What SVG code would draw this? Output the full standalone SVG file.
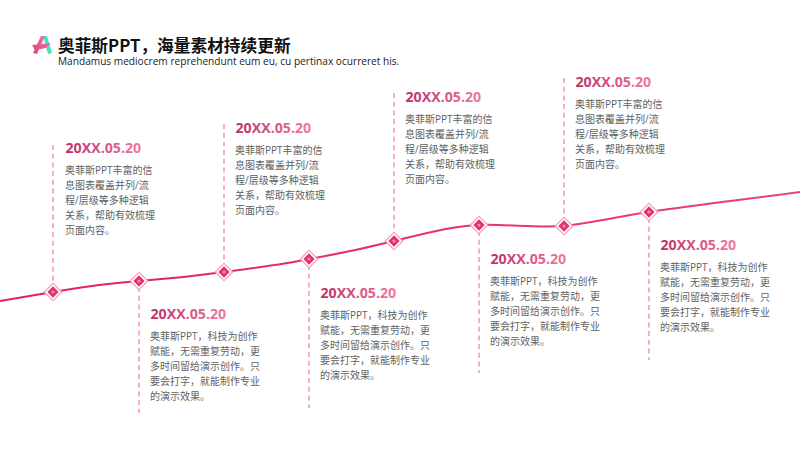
<svg xmlns="http://www.w3.org/2000/svg" width="800" height="450" viewBox="0 0 800 450">
<style>
.title{font:bold 16.7px "Noto Sans CJK SC","Open Sans",sans-serif;fill:#111}
.sub{font:10.15px "Open Sans","Noto Sans",sans-serif;fill:#222}
.date{font:bold 14.2px "Open Sans","Noto Sans",sans-serif;fill:url(#dg)}
.body{font:10px "Open Sans","Noto Sans CJK SC",sans-serif;fill:#5f5f5f}
.dash{stroke:#ec86ab;stroke-width:1.3;stroke-dasharray:5 3.7;fill:none}
.curve{stroke:url(#cg);stroke-width:2;fill:none}
.o{fill:#fff;stroke:#f09bbb;stroke-width:1.2}
.i{fill:#e3306f}
.c{fill:#f98db5}
</style>
<defs>
<linearGradient id="dg" x1="0" y1="0" x2="1" y2="0"><stop offset="0" stop-color="#bd2f6a"/><stop offset="1" stop-color="#ee79a3"/></linearGradient>
<linearGradient id="cg" gradientUnits="userSpaceOnUse" x1="0" y1="0" x2="800" y2="0"><stop offset="0" stop-color="#dd1f68"/><stop offset="1" stop-color="#ee3f7f"/></linearGradient>
<linearGradient id="lg" x1="0" y1="1" x2="1" y2="0"><stop offset="0" stop-color="#e0427f"/><stop offset="1" stop-color="#f2729f"/></linearGradient>
<g id="m"><rect class="o" x="-6.2" y="-6.2" width="12.4" height="12.4" transform="rotate(45)"/><rect class="i" x="-4" y="-4" width="8" height="8" transform="rotate(45)"/><circle class="c" r="1.6"/></g>
<g id="b1"><text class="body" y="0">奥菲斯PPT丰富的信</text><text class="body" y="15">息图表覆盖并列/流</text><text class="body" y="30">程/层级等多种逻辑</text><text class="body" y="45">关系，帮助有效梳理</text><text class="body" y="60">页面内容。</text></g>
<g id="b2"><text class="body" y="0">奥菲斯PPT，科技为创作</text><text class="body" y="15">赋能，无需重复劳动，更</text><text class="body" y="30">多时间留给演示创作。只</text><text class="body" y="45">要会打字，就能制作专业</text><text class="body" y="60">的演示效果。</text></g>
</defs>
<rect width="800" height="450" fill="#fff"/>
<g id="header">
<path d="M43 36 L47 36 L52 53 L48 54Z" fill="#3fe6bf"/>
<path d="M41 36 L45 36 L37 54 L33 53Z" fill="url(#lg)"/>
<path d="M32 45 L51 43 L46 48 L35 50Z" fill="url(#lg)"/>
<text class="title" x="58" y="51.5">奥菲斯PPT，海量素材持续更新</text>
<text class="sub" x="58" y="65">Mandamus mediocrem reprehendunt eum eu, cu pertinax ocurreret his.</text>
</g>
<g id="connectors">
<path class="curve" d="M0 301 C18 298 36 295 53 292 C82 287 110 283 139 281 C168 279 196 276 224 272 C253 268 281 265 309 259 C338 254 366 248 394 241 C423 234 451 226 479 225 C507 224 536 228 564 226 C593 223 621 216 649 212 C700 204 750 199 800 192"/>
<path class="dash" d="M53 145V286M139 287V413M224 124V266M309 265V408M394 93V235M479 231V373M564 78V220M649 218V360"/>
</g>
<g id="n1"><use href="#m" x="53" y="292"/><text class="date" x="65.5" y="152.5">20XX.05.20</text><use href="#b1" x="65" y="174"/></g>
<g id="n2"><use href="#m" x="139" y="281"/><text class="date" x="150.5" y="319">20XX.05.20</text><use href="#b2" x="150" y="340"/></g>
<g id="n3"><use href="#m" x="224" y="272"/><text class="date" x="235.5" y="133">20XX.05.20</text><use href="#b1" x="235" y="154"/></g>
<g id="n4"><use href="#m" x="309" y="259"/><text class="date" x="320.5" y="298">20XX.05.20</text><use href="#b2" x="320" y="319"/></g>
<g id="n5"><use href="#m" x="394" y="241"/><text class="date" x="405.5" y="102">20XX.05.20</text><use href="#b1" x="405" y="123"/></g>
<g id="n6"><use href="#m" x="479" y="225"/><text class="date" x="490.5" y="264">20XX.05.20</text><use href="#b2" x="490" y="285"/></g>
<g id="n7"><use href="#m" x="564" y="226"/><text class="date" x="575.5" y="87">20XX.05.20</text><use href="#b1" x="575" y="108"/></g>
<g id="n8"><use href="#m" x="649" y="212"/><text class="date" x="660.5" y="250">20XX.05.20</text><use href="#b2" x="660" y="271"/></g>
</svg>
